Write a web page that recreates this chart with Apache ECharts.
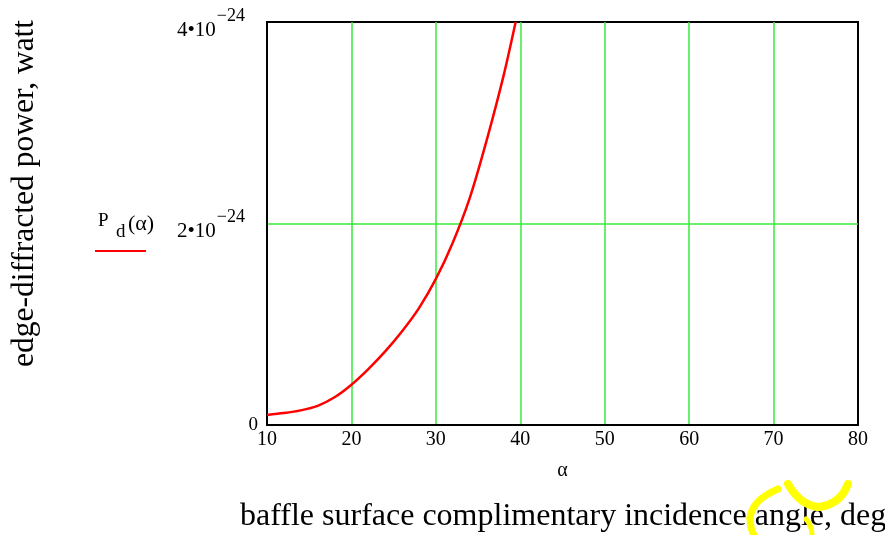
<!DOCTYPE html>
<html>
<head>
<meta charset="utf-8">
<script src="https://cdn.jsdelivr.net/npm/echarts@6/dist/echarts.min.js"></script>
<style>html,body{margin:0;padding:0;background:#fff;}#c{width:885px;height:535px;}</style>
</head>
<body>
<div id="c"></div>
<script>
// alpha, degrees
const alphaDeg = [10, 12, 14, 16, 18, 20, 22, 24, 26, 28, 30, 32, 34, 36, 38, 39.45];
// edge-diffracted power, in units of 1e-24 watt
const powerE24 = [0.10, 0.118, 0.145, 0.19, 0.275, 0.40, 0.555, 0.73, 0.93, 1.16, 1.45, 1.81, 2.25, 2.82, 3.46, 4.0];
const xTicks = [10, 20, 30, 40, 50, 60, 70, 80];
const yTicks = [0, 2, 4];
const yUnitExp = -24;

const serif = '"Liberation Serif", "DejaVu Serif", serif';
const chart = echarts.init(document.getElementById('c'));
const data = alphaDeg.map((a, i) => [a, powerE24[i]]);
const gridGreen = '#3ae83a';

function qcurve(x1, y1, cx, cy, x2, y2, w) {
  return { type: 'bezierCurve', shape: { x1: x1, y1: y1, cpx1: cx, cpy1: cy, x2: x2, y2: y2 },
    style: { stroke: '#ffff00', lineWidth: w, fill: null, lineCap: 'round' } };
}
function txt(x, y, s, size) {
  return { type: 'text', x: x, y: y,
    style: { text: s, fontFamily: serif, fontSize: size, fill: '#000', verticalAlign: 'middle', align: 'left' } };
}

chart.setOption({
  animation: false,
  backgroundColor: '#fff',
  grid: { left: 267, right: 27, top: 22, bottom: 110, show: true, borderColor: '#000', borderWidth: 2 },
  xAxis: {
    type: 'value', min: xTicks[0], max: xTicks[xTicks.length - 1], interval: 10,
    name: 'α', nameLocation: 'middle', nameGap: 36,
    nameTextStyle: { fontFamily: serif, fontSize: 20, color: '#000' },
    axisLine: { lineStyle: { color: '#000', width: 2 } },
    axisTick: { show: false },
    axisLabel: { fontFamily: serif, fontSize: 20, color: '#000', margin: 5 },
    splitLine: { showMinLine: false, showMaxLine: false, lineStyle: { color: gridGreen, width: 1.5 } }
  },
  yAxis: {
    type: 'value', min: yTicks[0], max: yTicks[yTicks.length - 1], interval: 2,
    axisLine: { lineStyle: { color: '#000', width: 2 } },
    axisTick: { show: false },
    axisLabel: {
      margin: 9, color: '#000', fontFamily: serif, fontSize: 19,
      formatter: v => v === 0 ? '0' : '{m|' + v + '•10}{s|−' + Math.abs(yUnitExp) + '}{g|}',
      rich: {
        m: { fontFamily: serif, fontSize: 21, color: '#000', padding: [16, 0, 0, 0] },
        s: { fontFamily: serif, fontSize: 18, color: '#000', padding: [0, 0, 12, 1] },
        g: { width: 13 }
      }
    },
    splitLine: { showMinLine: false, showMaxLine: false, lineStyle: { color: gridGreen, width: 1.5 } }
  },
  series: [{
    type: 'line', data: data, smooth: 0.3, showSymbol: false,
    lineStyle: { color: '#ff0000', width: 2.5 }
  }],
  graphic: [
    { type: 'text', x: 240, y: 501,
      style: { text: 'baffle surface complimentary incidence angle, deg', fontFamily: serif, fontSize: 32, fill: '#000' } },
    { type: 'text', x: 9, y: 367, rotation: Math.PI / 2,
      style: { text: 'edge-diffracted power, watt', fontFamily: serif, fontSize: 31.5, fill: '#000' } },
    txt(98, 221, 'P', 19),
    txt(116, 232, 'd', 19),
    txt(128, 224, '(α)', 22),
    { type: 'line', shape: { x1: 95, y1: 251, x2: 146, y2: 251 }, style: { stroke: '#ff0000', lineWidth: 2 } },
    qcurve(778, 489, 752, 500, 750, 518, 7),
    qcurve(750, 518, 750, 528, 754, 535, 7),
    qcurve(788, 484, 800, 505, 818, 507, 8),
    qcurve(818, 507, 840, 505, 848, 484, 8),
    qcurve(806, 519, 812, 526, 812, 535, 5)
  ]
});
</script>
</body>
</html>
